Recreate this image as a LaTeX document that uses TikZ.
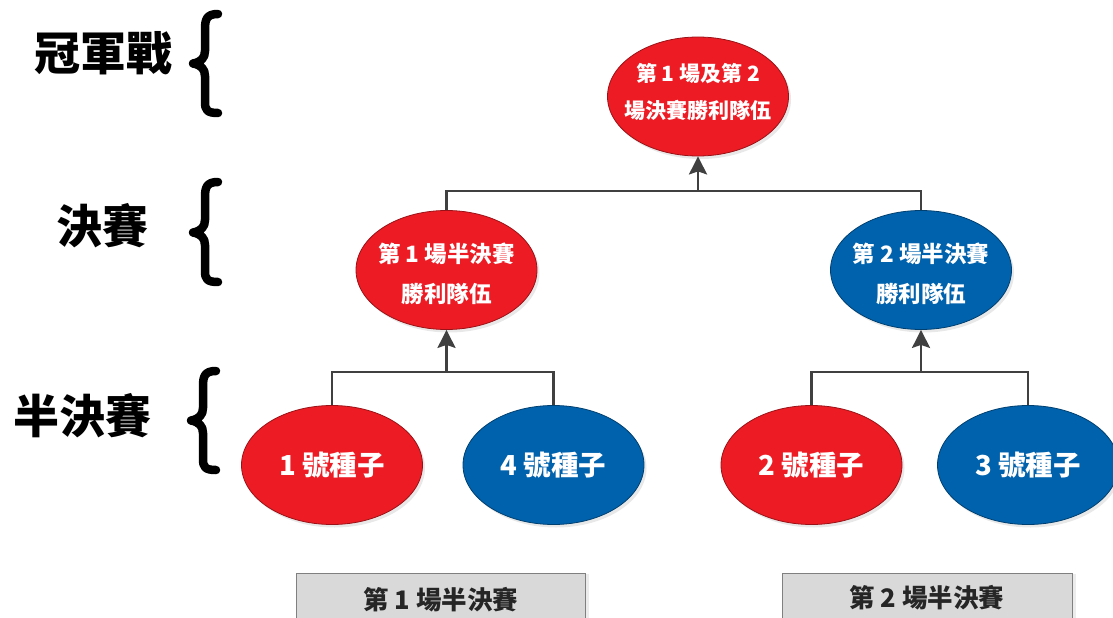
\documentclass[tikz,border=0pt]{standalone}
\usepackage{fontspec}
\newfontfamily\cjk{Noto Sans CJK TC}
\usetikzlibrary{shapes.geometric,arrows.meta,shadows}
\definecolor{myred}{HTML}{ED1C24}
\definecolor{myblue}{HTML}{0062AD}
\definecolor{connc}{HTML}{404040}
\definecolor{boxgray}{HTML}{D9D9D9}
\definecolor{boxline}{HTML}{808080}
\definecolor{boxtext}{HTML}{262626}
\begin{document}
\begin{tikzpicture}[x=1pt,y=-1pt,
  oval/.style={ellipse, minimum width=181pt, minimum height=119pt, inner sep=0pt,
    inner xsep=-40pt, text=white, align=center, line width=0.8pt,
    drop shadow={opacity=0.18, shadow xshift=2.5pt, shadow yshift=-3pt}},
  redo/.style={oval, fill=myred, draw=myred!65!black},
  blueo/.style={oval, fill=myblue, draw=myblue!65!black},
  seedtext/.style={font=\cjk\bfseries\fontsize{27.5}{32}\selectfont},
  midtext/.style={font=\cjk\bfseries\fontsize{22.5}{40}\selectfont},
  toptext/.style={font=\cjk\bfseries\fontsize{21}{37}\selectfont},
  connline/.style={draw=connc, line width=2.5pt},
  arr/.style={connline, -{Stealth[length=18pt,width=18pt,inset=3pt]}},
  bracepath/.style={line width=8.5pt, line cap=round, line join=round},
  lvl/.style={font=\cjk\bfseries\fontsize{46}{46}\selectfont, inner sep=0pt},
  matchbox/.style={fill=boxgray, draw=boxline, line width=1.2pt,
    drop shadow={opacity=0.15, shadow xshift=3pt, shadow yshift=0pt}},
  boxtxt/.style={font=\cjk\bfseries\fontsize{25.5}{28}\selectfont, text=boxtext, inner sep=0pt}
]
\useasboundingbox (0,0) rectangle (1113,618);

% level labels
\node[lvl] (lchamp) at (103,53) {冠軍戰};
\node[lvl] (lfinal) at (102,226) {決賽};
\node[lvl] (lsemi) at (82,416) {半決賽};

% braces
\draw[bracepath] (218,14) .. controls (207,14) and (205,19) .. (205,29) -- (205,51)
  .. controls (205,58) and (201,62) .. (193,63.5)
  .. controls (201,65) and (205,69) .. (205,76) -- (205,102)
  .. controls (205,110) and (207,113) .. (218,113);
\draw[bracepath] (218,182) .. controls (207,182) and (205,187) .. (205,197) -- (205,220)
  .. controls (205,227) and (201,231) .. (193,232.5)
  .. controls (201,234) and (205,238) .. (205,245) -- (205,271)
  .. controls (205,279) and (207,282) .. (218,282);
\draw[bracepath] (216,371) .. controls (205,371) and (203,376) .. (203,386) -- (203,408)
  .. controls (203,415) and (199,419) .. (191,420.5)
  .. controls (199,422) and (203,426) .. (203,433) -- (203,459)
  .. controls (203,467) and (205,470) .. (216,470);

% ellipses
\node[redo, toptext] (champ) at (698,96.5) {第 1 場及第 2\\場決賽勝利隊伍\rule[-12pt]{0pt}{0pt}};
\node[redo, midtext] (w1) at (446.5,270) {\rule{0pt}{28pt}第 1 場半決賽\\勝利隊伍};
\node[blueo, midtext] (w2) at (921,270) {\rule{0pt}{28pt}第 2 場半決賽\\勝利隊伍};
\node[redo, seedtext] (s1) at (332,465) {1 號種子};
\node[blueo, seedtext] (s4) at (553.5,465) {4 號種子};
\node[redo, seedtext] (s2) at (811.5,465) {2 號種子};
\node[blueo, seedtext] (s3) at (1028,465) {3 號種子};

% junction coordinates
\coordinate (j1) at (446.5,372);
\coordinate (j2) at (921,372);
\coordinate (j3) at (698,191);

% connectors
\draw[connline] (s1.north) -- (s1.north |- j1) -- (s4.north |- j1) -- (s4.north);
\draw[arr] (j1) -- (w1.south);
\draw[connline] (s2.north) -- (s2.north |- j2) -- (s3.north |- j2) -- (s3.north);
\draw[arr] (j2) -- (w2.south);
\draw[connline] (w1.north) -- (w1.north |- j3) -- (w2.north |- j3) -- (w2.north);
\draw[arr] (j3) -- (champ.south);

% bottom boxes
\node[matchbox, minimum width=289pt, minimum height=60pt, inner sep=0pt, anchor=north west]
  (m1) at (296,573) {};
\node[boxtxt] (m1t) at (441,600) {第 1 場半決賽};
\node[matchbox, minimum width=290pt, minimum height=60pt, inner sep=0pt, anchor=north west]
  (m2) at (782,573) {};
\node[boxtxt] (m2t) at (927,598) {第 2 場半決賽};
\end{tikzpicture}
\end{document}
